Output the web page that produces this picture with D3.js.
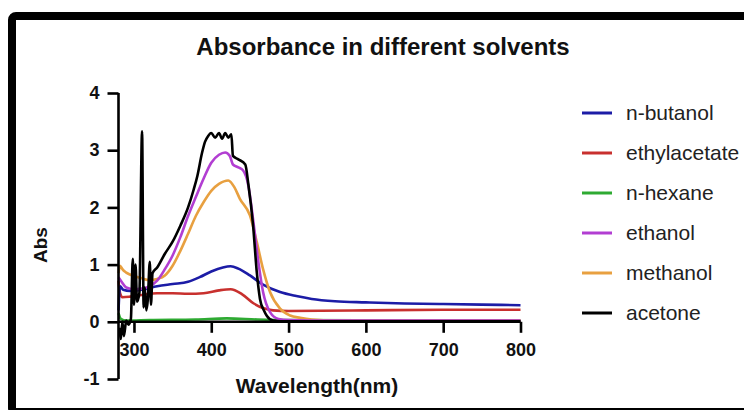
<!DOCTYPE html>
<html lang="en">
<head>
<meta charset="utf-8">
<title>Absorbance in different solvents</title>
<script src="https://cdn.jsdelivr.net/npm/d3@7"></script>
<style>
  body { margin: 0; background: #fff; }
  text { font-family: "Liberation Sans", Arial, Helvetica, sans-serif; }
</style>
</head>
<body>
<script>
// wavelength / absorbance readings for each solvent
const butanolW = [280, 282, 286, 295, 310, 330, 350, 370, 385, 400, 415, 425, 435, 450, 467, 489, 510, 530, 560, 600, 650, 700, 750, 800];
const butanolA = [0.2, 0.62, 0.56, 0.54, 0.56, 0.62, 0.66, 0.7, 0.78, 0.88, 0.95, 0.97, 0.93, 0.81, 0.65, 0.52, 0.45, 0.4, 0.36, 0.34, 0.32, 0.31, 0.3, 0.29];

const ethylW = [280, 282, 285, 295, 310, 330, 350, 370, 390, 410, 425, 440, 455, 467, 480, 500, 600, 700, 800];
const ethylA = [0.72, 0.5, 0.43, 0.44, 0.47, 0.5, 0.5, 0.49, 0.5, 0.55, 0.57, 0.48, 0.32, 0.24, 0.2, 0.19, 0.2, 0.21, 0.21];

const hexaneW = [280, 283, 290, 320, 380, 420, 460, 500, 800];
const hexaneA = [0.15, 0.05, 0.02, 0.03, 0.04, 0.06, 0.04, 0.03, 0.02];

const ethanolW = [280, 284, 290, 300, 310, 320, 330, 340, 350, 360, 370, 380, 390, 400, 410, 418, 424, 428, 435, 441, 448, 454, 461, 467, 476, 487, 500, 550, 800];
const ethanolA = [0.78, 0.7, 0.6, 0.57, 0.58, 0.62, 0.72, 0.92, 1.16, 1.48, 1.85, 2.18, 2.5, 2.78, 2.92, 2.96, 2.9, 2.75, 2.7, 2.65, 2.38, 1.8, 1.04, 0.52, 0.17, 0.05, 0.03, 0.02, 0.02];

const methanolW = [280, 282, 285, 290, 300, 310, 320, 330, 340, 350, 360, 370, 380, 390, 400, 410, 422, 430, 437, 450, 459, 467, 476, 489, 502, 515, 530, 560, 800];
const methanolA = [0.85, 0.98, 0.92, 0.86, 0.8, 0.76, 0.73, 0.75, 0.81, 0.98, 1.24, 1.54, 1.85, 2.09, 2.29, 2.41, 2.47, 2.35, 2.15, 1.86, 1.39, 0.92, 0.52, 0.23, 0.11, 0.07, 0.04, 0.02, 0.02];

const acetoneW = [281, 283, 285, 287, 290, 293, 296, 298.5, 300, 302, 304, 307, 310.5, 312.5, 314, 316, 318, 320.5, 322, 324, 330, 340, 350, 360, 370, 377, 382, 388, 392, 396, 400, 405, 410, 414, 418, 422, 426, 428, 435, 444, 448, 454, 459, 463, 468, 472, 480, 490, 800];
const acetoneA = [-0.1, -0.3, 0.0, -0.25, 0.02, -0.05, 0.05, 1.1, 0.3, 1.0, 0.35, 0.5, 3.33, 0.25, 0.6, 0.2, 0.4, 1.05, 0.3, 0.85, 0.95, 1.19, 1.4, 1.68, 2.0, 2.3, 2.55, 2.95, 3.15, 3.25, 3.3, 3.22, 3.3, 3.2, 3.3, 3.22, 3.28, 2.9, 2.84, 2.75, 2.4, 1.7, 0.85, 0.4, 0.2, 0.1, 0.02, 0.01, 0.01];

const solventNames = ["n-butanol", "ethylacetate", "n-hexane", "ethanol", "methanol", "acetone"];
const solventColors = ["#1c1ca6", "#c8302e", "#2eaa32", "#b23ed2", "#e8a040", "#000000"];
const xTicks = [300, 400, 500, 600, 700, 800];
const yTicks = [-1, 0, 1, 2, 3, 4];

const w = 744, h = 410;

const svg = d3.select("body").append("svg")
    .attr("width", w)
    .attr("height", h);

// frame round the picture
svg.append("rect")
    .attr("x", 12).attr("y", 16)
    .attr("width", 800).attr("height", 396)
    .attr("rx", 4)
    .attr("fill", "none")
    .attr("stroke", "#000")
    .attr("stroke-width", 8);

const x = d3.scaleLinear().domain([280, 800]).range([118.5, 520.5]);
const y = d3.scaleLinear().domain([-1, 4]).range([379, 93]);

svg.append("text")
    .attr("x", 383).attr("y", 55)
    .attr("text-anchor", "middle")
    .attr("font-size", 24)
    .attr("font-weight", "bold")
    .attr("fill", "#111")
    .text("Absorbance in different solvents");

const series = [
  [butanolW, butanolA],
  [ethylW, ethylA],
  [hexaneW, hexaneA],
  [ethanolW, ethanolA],
  [methanolW, methanolA],
  [acetoneW, acetoneA]
].map((s, i) => ({
  name: solventNames[i],
  color: solventColors[i],
  values: s[0].map((wl, j) => ({w: wl, a: s[1][j]}))
}));

const line = d3.line()
    .x(d => x(d.w))
    .y(d => y(d.a))
    .curve(d3.curveMonotoneX);

// draw in an order so black sits on top like the reference
const drawOrder = [2, 1, 0, 4, 3, 5];
svg.append("g")
  .selectAll("path")
  .data(drawOrder.map(i => series[i]))
  .join("path")
    .attr("fill", "none")
    .attr("stroke", d => d.color)
    .attr("stroke-width", 2.6)
    .attr("stroke-linejoin", "round")
    .attr("d", d => line(d.values));

// axes
const yAxis = svg.append("g")
    .attr("transform", `translate(${x(280)},0)`)
    .call(d3.axisLeft(y).tickValues(yTicks).tickSize(11).tickPadding(8).tickFormat(d => String(d)));

const xAxis = svg.append("g")
    .attr("transform", `translate(0,${y(0)})`)
    .call(d3.axisBottom(x).tickValues(xTicks).tickSize(11).tickPadding(10).tickFormat(d => String(d)));

[xAxis, yAxis].forEach(g => {
  g.select(".domain").attr("stroke", "#000").attr("stroke-width", 2.6);
  g.selectAll(".tick line").attr("stroke", "#000").attr("stroke-width", 2.6);
  g.selectAll(".tick text")
    .attr("fill", "#111")
    .attr("font-size", 18)
    .attr("font-weight", "bold")
    .attr("font-family", "'Liberation Sans', Arial, sans-serif");
});
// straight ends instead of d3's outer ticks
xAxis.select(".domain").attr("d", `M${x(280)},0H${x(800)}`);
yAxis.select(".domain").attr("d", `M0,${y(-1)}V${y(4)}`);

svg.append("text")
    .attr("x", 317).attr("y", 393)
    .attr("text-anchor", "middle")
    .attr("font-size", 21)
    .attr("font-weight", "bold")
    .attr("fill", "#111")
    .text("Wavelength(nm)");

svg.append("text")
    .attr("transform", "translate(47,245) rotate(-90)")
    .attr("text-anchor", "middle")
    .attr("font-size", 19)
    .attr("font-weight", "bold")
    .attr("fill", "#111")
    .text("Abs");

// legend
const legend = svg.append("g")
    .selectAll("g")
    .data(series)
    .join("g")
    .attr("transform", (d, i) => `translate(582,${113 + i * 40})`);

legend.append("line")
    .attr("x1", 0).attr("x2", 30)
    .attr("stroke", d => d.color)
    .attr("stroke-width", 3);

legend.append("text")
    .attr("x", 44).attr("y", 7)
    .attr("font-size", 21)
    .attr("fill", "#222")
    .text(d => d.name);
</script>
</body>
</html>
